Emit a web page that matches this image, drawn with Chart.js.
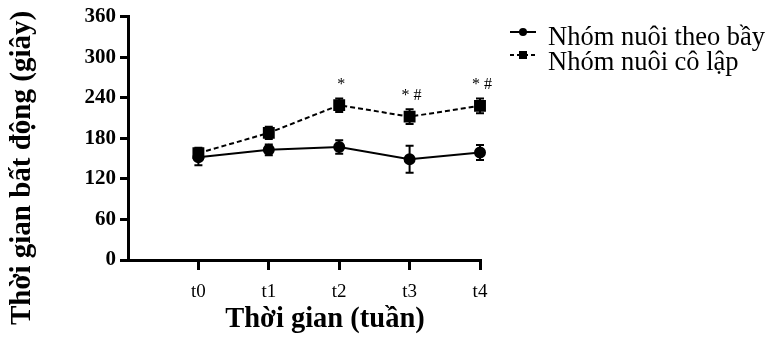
<!DOCTYPE html>
<html>
<head>
<meta charset="utf-8">
<script src="https://cdn.jsdelivr.net/npm/chart.js@4"></script>
<style>
  body { margin: 0; background: #fff; }
  canvas { display: block; }
</style>
</head>
<body>
<canvas id="myChart" width="769" height="337"></canvas>
<script>
// data
var weekLabels = ['t0', 't1', 't2', 't3', 't4'];
var yTicks = [0, 60, 120, 180, 240, 300, 360];
var groupMean = [152, 163, 167, 149, 159];
var groupErr = [12, 8, 10, 20, 11];
var isolatedMean = [158, 188, 229, 212, 228];
var isolatedErr = [8, 9, 10, 11, 11];
var marks = ['', '', '*', '* #', '* #'];
var legendNames = ['Nhóm nuôi theo bầy', 'Nhóm nuôi cô lập'];

var serif = "'Liberation Serif', 'Times New Roman', serif";

function toPoints(arr) {
    var pts = [];
    for (var i = 0; i < arr.length; i++) {
        pts.push({ x: i, y: arr[i] });
    }
    return pts;
}

// error bars, significance marks, legend and axis titles
var extras = {
    id: 'extras',
    afterDatasetsDraw: function(chart) {
        var ctx = chart.ctx;
        var xs = chart.scales.x;
        var ys = chart.scales.y;
        var sets = [[groupMean, groupErr], [isolatedMean, isolatedErr]];
        ctx.save();
        ctx.strokeStyle = '#000';
        ctx.lineWidth = 2;
        ctx.setLineDash([]);
        sets.forEach(function(s) {
            for (var i = 0; i < s[0].length; i++) {
                var px = xs.getPixelForValue(i);
                var top = ys.getPixelForValue(s[0][i] + s[1][i]);
                var bot = ys.getPixelForValue(s[0][i] - s[1][i]);
                ctx.beginPath();
                ctx.moveTo(px, top); ctx.lineTo(px, bot);
                ctx.moveTo(px - 4, top); ctx.lineTo(px + 4, top);
                ctx.moveTo(px - 4, bot); ctx.lineTo(px + 4, bot);
                ctx.stroke();
            }
        });

        // * and # above the isolated group
        ctx.fillStyle = '#000';
        ctx.font = '16px ' + serif;
        ctx.textAlign = 'center';
        ctx.textBaseline = 'alphabetic';
        for (var i = 0; i < marks.length; i++) {
            if (!marks[i]) continue;
            var tx = xs.getPixelForValue(i) + 2;
            var ty = ys.getPixelForValue(isolatedMean[i] + isolatedErr[i]) - 9;
            ctx.fillText(marks[i], tx, ty);
        }

        // legend
        var ly = [32, 55];
        var tb = [45, 70];
        ctx.lineWidth = 2;
        for (var j = 0; j < 2; j++) {
            ctx.setLineDash(j === 0 ? [] : [4, 3]);
            ctx.beginPath();
            ctx.moveTo(510, ly[j]); ctx.lineTo(536, ly[j]);
            ctx.stroke();
            ctx.setLineDash([]);
            ctx.beginPath();
            if (j === 0) {
                ctx.arc(523, ly[j], 4, 0, Math.PI * 2);
            } else {
                ctx.rect(519, ly[j] - 4, 8, 8);
            }
            ctx.fill();
            ctx.font = '26.5px ' + serif;
            ctx.textAlign = 'left';
            ctx.fillText(legendNames[j], 548, tb[j]);
        }

        // axis titles
        ctx.font = 'bold 28.5px ' + serif;
        ctx.textAlign = 'center';
        ctx.textBaseline = 'middle';
        ctx.fillText('Thời gian (tuần)', 325, 320);
        ctx.font = 'bold 29px ' + serif;
        ctx.translate(23, 168);
        ctx.rotate(-Math.PI / 2);
        ctx.fillText('Thời gian bất động (giây)', 0, 0);
        ctx.restore();
    }
};

var ctx = document.getElementById('myChart').getContext('2d');
var myChart = new Chart(ctx, {
    type: 'line',
    data: {
        datasets: [{
            label: legendNames[0],
            data: toPoints(groupMean),
            borderColor: '#000',
            backgroundColor: '#000',
            borderWidth: 2,
            pointStyle: 'circle',
            pointRadius: 5,
            tension: 0,
            clip: false
        }, {
            label: legendNames[1],
            data: toPoints(isolatedMean),
            borderColor: '#000',
            backgroundColor: '#000',
            borderWidth: 2,
            borderDash: [5, 3],
            pointStyle: 'rect',
            pointRadius: 7,
            tension: 0,
            clip: false
        }]
    },
    options: {
        responsive: false,
        animation: false,
        devicePixelRatio: 1,
        layout: { padding: { top: 13, right: 289, left: 0, bottom: 0 } },
        plugins: {
            legend: { display: false },
            tooltip: { enabled: false }
        },
        scales: {
            x: {
                type: 'linear',
                min: -1,
                max: 4,
                afterFit: function(scale) { scale.height = 77; },
                afterBuildTicks: function(scale) {
                    scale.ticks = weekLabels.map(function(l, i) { return { value: i }; });
                },
                border: { display: true, color: '#000', width: 3 },
                grid: { drawOnChartArea: false, color: '#000', lineWidth: 3, tickLength: 10 },
                ticks: {
                    color: '#000',
                    padding: 11,
                    font: { family: serif, size: 19 },
                    callback: function(v) { return weekLabels[v]; }
                }
            },
            y: {
                min: 0,
                max: 360,
                afterFit: function(scale) { scale.width = 128; },
                afterBuildTicks: function(scale) {
                    scale.ticks = yTicks.map(function(v) { return { value: v }; });
                },
                border: { display: true, color: '#000', width: 3 },
                grid: { drawOnChartArea: false, color: '#000', lineWidth: 3, tickLength: 8 },
                ticks: {
                    color: '#000',
                    padding: 4,
                    font: { family: serif, size: 21, weight: 'bold' }
                }
            }
        }
    },
    plugins: [extras]
});
</script>
</body>
</html>
